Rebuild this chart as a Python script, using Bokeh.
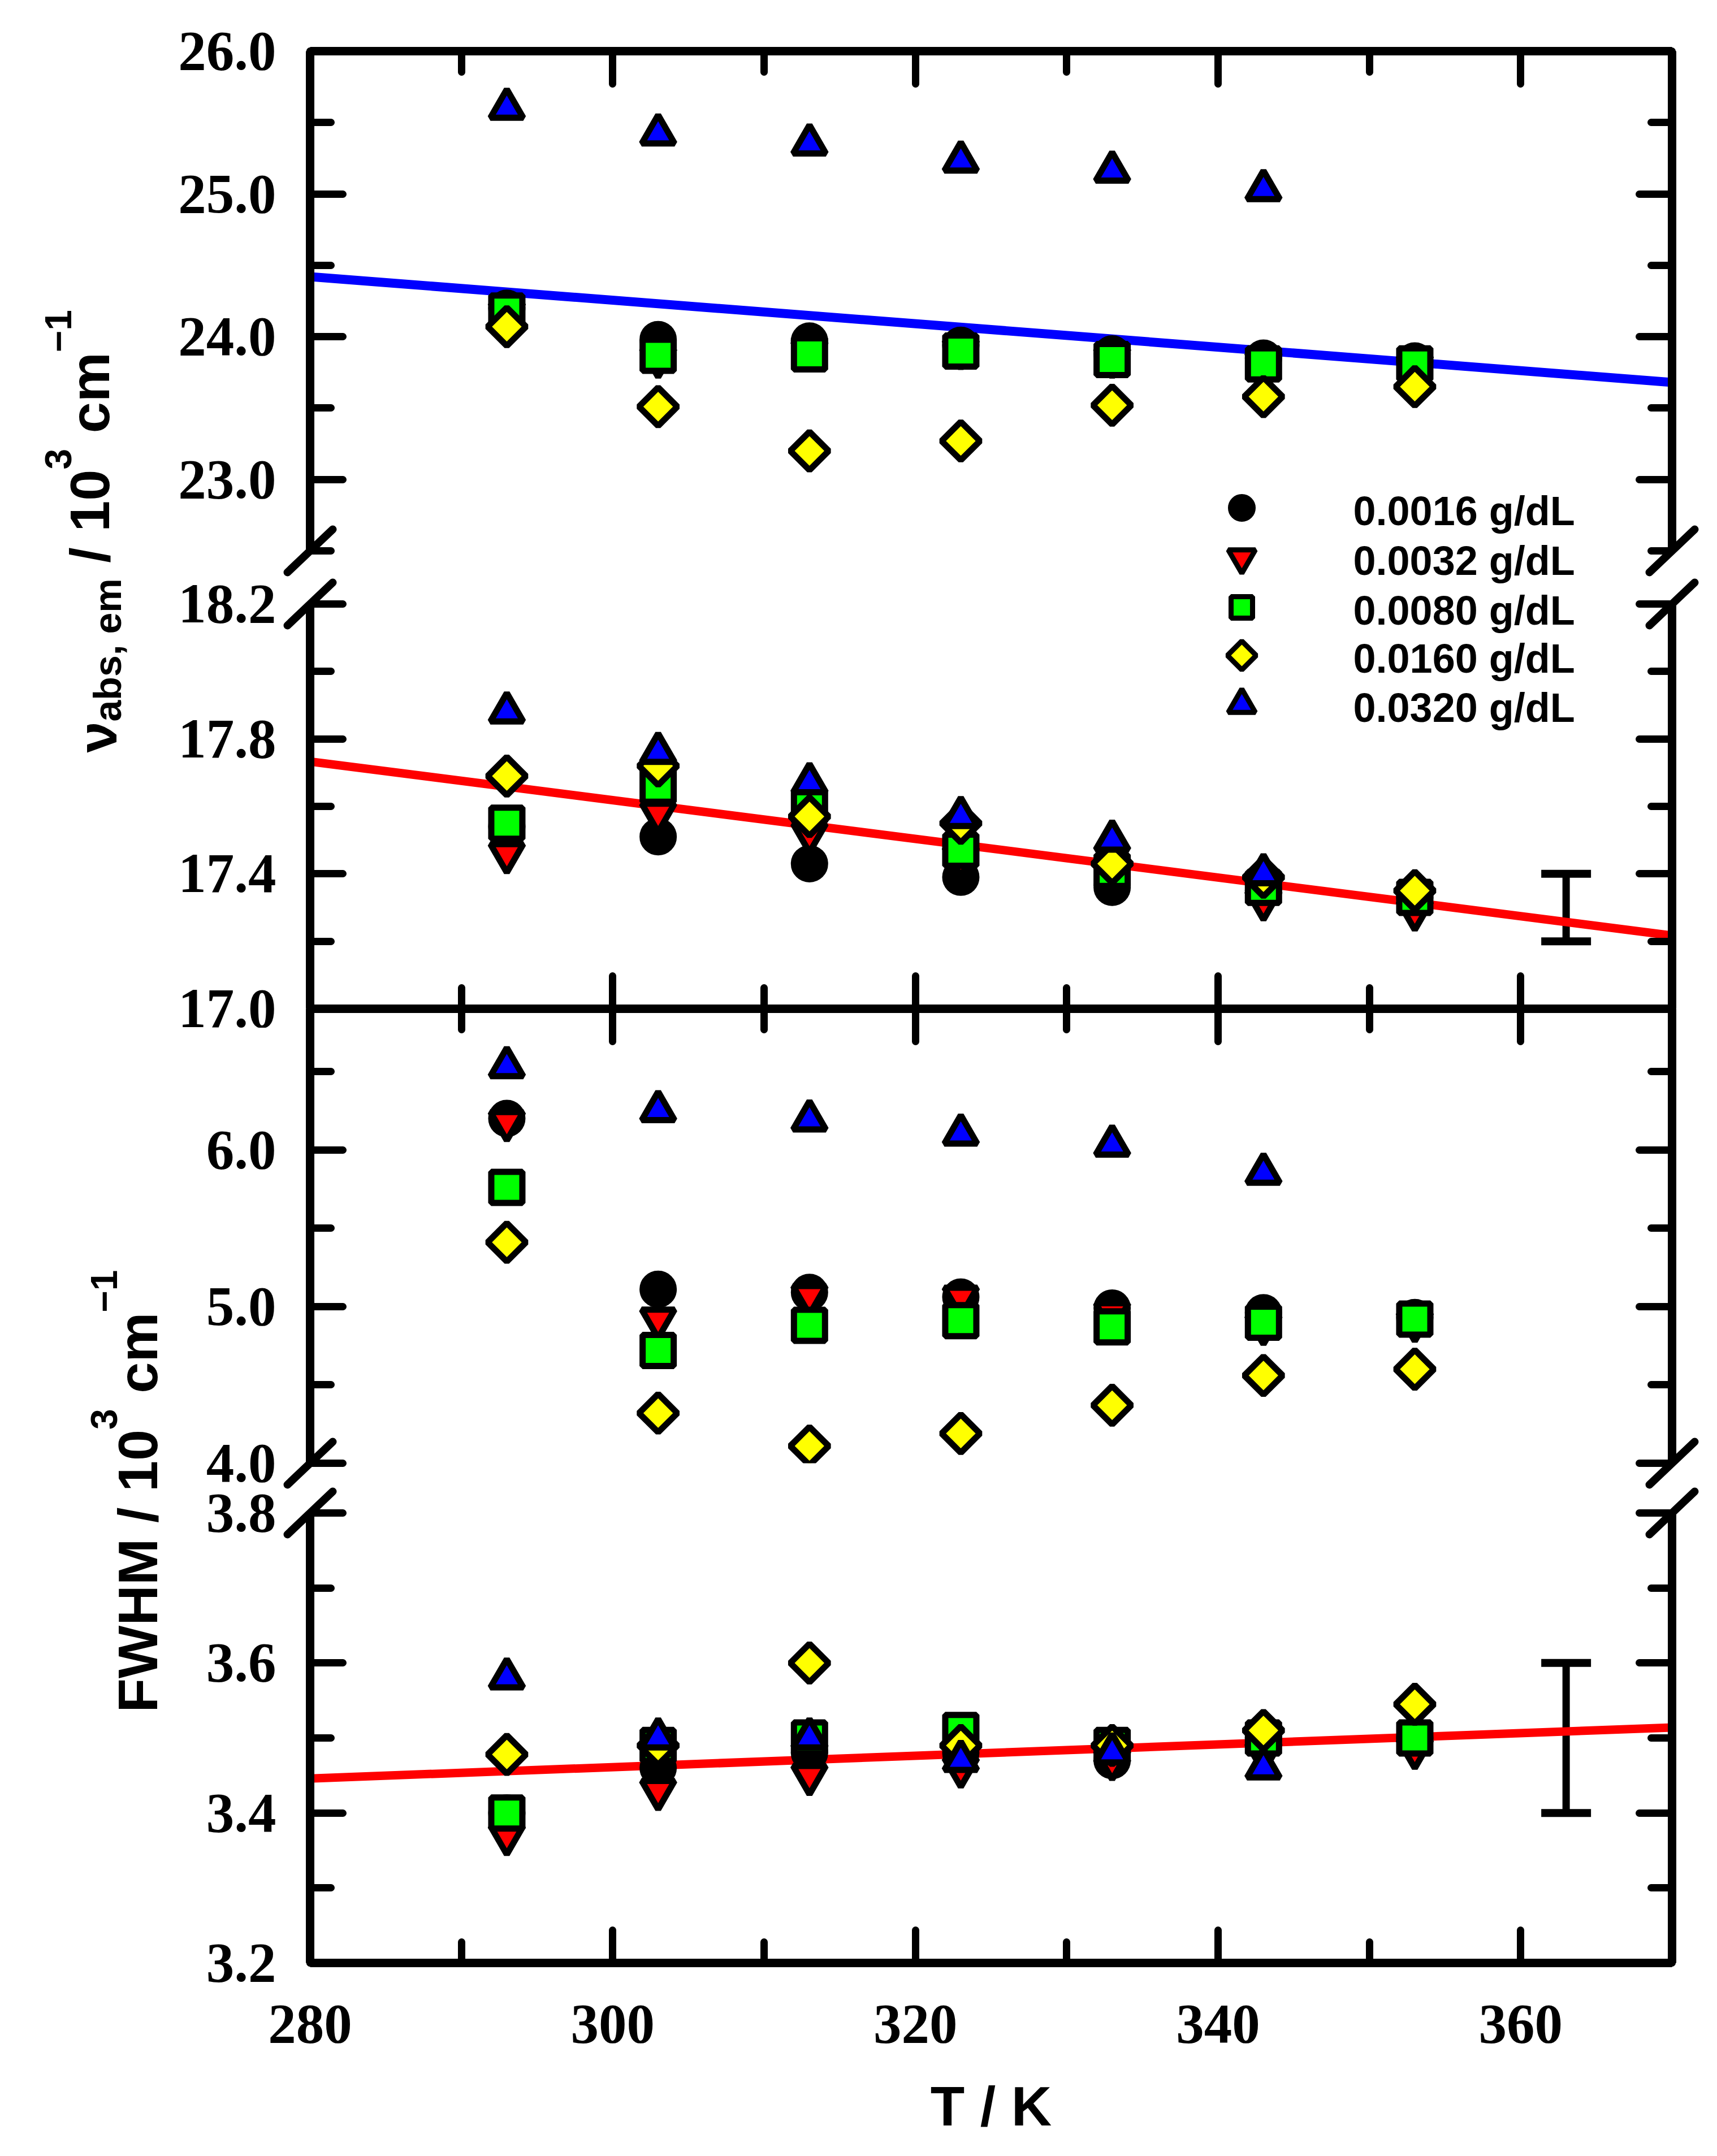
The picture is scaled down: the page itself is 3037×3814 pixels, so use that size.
from math import pi

from bokeh.core.properties import value
from bokeh.embed import file_html
from bokeh.layouts import column
from bokeh.models import (ColumnDataSource, FixedTicker, LinearAxis, PrintfTickFormatter,
                          Range1d, TeeHead, Whisker)
from bokeh.plotting import figure
from bokeh.resources import INLINE

NAN = float("nan")

temperature_K = [293, 303, 313, 323, 333, 343, 353]
concentrations = ["0.0016 g/dL", "0.0032 g/dL", "0.0080 g/dL", "0.0160 g/dL", "0.0320 g/dL"]

# emission maximum (10^3 cm^-1)
nu_em_c0016 = [24.20, 23.98, 23.97, 23.94, 23.88, 23.85, 23.83]
nu_em_c0032 = [24.17, 23.85, 23.90, 23.91, 23.85, 23.82, 23.80]
nu_em_c0080 = [24.18, 23.87, 23.88, 23.90, 23.84, 23.81, 23.81]
nu_em_c0160 = [24.07, 23.51, 23.20, 23.27, 23.52, 23.58, 23.65]
nu_em_c0320 = [25.60, 25.42, 25.35, 25.23, 25.16, 25.03, NAN]

# absorption maximum (10^3 cm^-1)
nu_abs_c0016 = [17.54, 17.51, 17.43, 17.39, 17.36, 17.35, 17.33]
nu_abs_c0032 = [17.46, 17.58, 17.52, 17.45, 17.40, 17.32, 17.29]
nu_abs_c0080 = [17.55, 17.66, 17.60, 17.47, 17.41, 17.36, 17.33]
nu_abs_c0160 = [17.69, 17.72, 17.57, 17.55, 17.43, 17.39, 17.35]
nu_abs_c0320 = [17.88, 17.76, 17.67, 17.57, 17.50, 17.40, NAN]

# emission band width (10^3 cm^-1)
fwhm_em_c0016 = [6.20, 5.11, 5.09, 5.06, 4.99, 4.96, 4.93]
fwhm_em_c0032 = [6.18, 4.92, 5.07, 5.06, 4.96, 4.88, 4.90]
fwhm_em_c0080 = [5.76, 4.72, 4.88, 4.91, 4.87, 4.90, 4.92]
fwhm_em_c0160 = [5.41, 4.32, 4.11, 4.19, 4.37, 4.56, 4.60]
fwhm_em_c0320 = [6.53, 6.25, 6.19, 6.10, 6.03, 5.85, NAN]

# absorption band width (10^3 cm^-1)
fwhm_abs_c0016 = [3.40, 3.46, 3.48, 3.48, 3.47, 3.50, 3.50]
fwhm_abs_c0032 = [3.37, 3.43, 3.45, 3.46, 3.47, 3.48, 3.485]
fwhm_abs_c0080 = [3.40, 3.49, 3.50, 3.51, 3.49, 3.50, 3.50]
fwhm_abs_c0160 = [3.478, 3.49, 3.60, 3.49, 3.49, 3.51, 3.545]
fwhm_abs_c0320 = [3.58, 3.50, 3.50, 3.47, 3.48, 3.46, NAN]

# linear fits and error bars
fit_T = [280, 370]
nu_em_fit = [24.42, 23.68]
nu_abs_fit = [17.733, 17.217]
fwhm_abs_fit = [3.446, 3.514]
err_T = [363]
nu_abs_err = ([17.2], [17.4])
fwhm_abs_err = ([3.4], [3.6])

# ticks
T_major = [280, 300, 320, 340, 360]
T_minor = [290, 310, 330, 350]
nu_em_major, nu_em_minor = [23.0, 24.0, 25.0, 26.0], [22.5, 23.5, 24.5, 25.5]
nu_abs_major, nu_abs_minor = [17.0, 17.4, 17.8, 18.2], [17.2, 17.6, 18.0]
fwhm_em_major, fwhm_em_minor = [4.0, 5.0, 6.0], [4.5, 5.5, 6.5]
fwhm_abs_major, fwhm_abs_minor = [3.2, 3.4, 3.6, 3.8], [3.3, 3.5, 3.7]

FRAME_W = 2409
LEFT, RIGHT = 548, 80
TOTAL_W, TOTAL_H = 3037, 3814
OVERLAP = 34          # room for the "17.0" label shared by the two middle panels

# marker, fill, size, angle  (diamond = rotated square)
STYLES = [("circle", "#000000", 55, 0.0),
          ("inverted_triangle", "#FF0000", 58, 0.0),
          ("square", "#00FF00", 55, 0.0),
          ("square", "#FFFF00", 48, pi / 4),
          ("triangle", "#0000FF", 58, 0.0)]


def style_axis(ax, labels, standoff=60):
    ax.axis_line_width = 15
    ax.major_tick_line_width = 13
    ax.minor_tick_line_width = 13
    ax.major_tick_line_cap = "round"
    ax.minor_tick_line_cap = "round"
    ax.major_tick_in = 58
    ax.major_tick_out = 0
    ax.minor_tick_in = 37
    ax.minor_tick_out = 0
    if labels:
        ax.major_label_text_font = "Liberation Serif"
        ax.major_label_text_font_style = "bold"
        ax.major_label_text_font_size = "99px"   # not 100px: svg font parser chokes on "bold 100px"
        ax.major_label_text_color = "black"
        ax.major_label_standoff = standoff
    else:
        ax.major_label_text_color = None
        ax.major_label_standoff = 0


def make_panel(y_lo, y_hi, frame_h, top, bottom, x_side, y_major, y_minor,
               x_labels=False, transparent=False):
    fill = None if transparent else "white"
    p = figure(frame_width=FRAME_W, frame_height=frame_h,
               x_range=Range1d(280, 370), y_range=Range1d(y_lo, y_hi),
               x_axis_location=x_side, y_axis_location="left",
               output_backend="svg", toolbar_location=None,
               min_border_left=LEFT, min_border_right=RIGHT,
               min_border_top=top, min_border_bottom=bottom,
               outline_line_color=None, background_fill_color=fill, border_fill_color=fill)
    p.grid.visible = False
    right = LinearAxis()
    p.add_layout(right, "right")
    left = p.left[0]
    xax = p.above[0] if x_side == "above" else p.below[0]
    xax.ticker = FixedTicker(ticks=T_major, minor_ticks=T_minor)
    style_axis(xax, x_labels, standoff=75)
    for ax, lab in ((left, True), (right, False)):
        ax.ticker = FixedTicker(ticks=y_major, minor_ticks=y_minor)
        ax.formatter = PrintfTickFormatter(format="%.1f")
        style_axis(ax, lab)
    return p


def add_points(p, series):
    for ys, (marker, color, size, angle) in zip(series, STYLES):
        p.scatter(temperature_K, ys, marker=marker, size=size, angle=angle,
                  fill_color=color, line_color="black", line_width=11)


def add_error(p, low, high):
    src = ColumnDataSource(dict(base=err_T, lower=low, upper=high))
    p.add_layout(Whisker(source=src, base="base", lower="lower", upper="upper",
                         dimension="height", line_width=13, line_color="black",
                         upper_head=TeeHead(size=88, line_width=14),
                         lower_head=TeeHead(size=88, line_width=14)))


# panel 1: emission maximum
p1 = make_panel(22.5, 26.0, 884, 90, 50, "above", nu_em_major, nu_em_minor)
p1.line(fit_T, nu_em_fit, line_color="#0000FF", line_width=16)
add_points(p1, [nu_em_c0016, nu_em_c0032, nu_em_c0080, nu_em_c0160, nu_em_c0320])

# panel 2: absorption maximum
p2 = make_panel(17.0, 18.2, 716, 44, OVERLAP, "below", nu_abs_major, nu_abs_minor)
p2.line(fit_T, nu_abs_fit, line_color="#FF0000", line_width=15)
add_points(p2, [nu_abs_c0016, nu_abs_c0032, nu_abs_c0080, nu_abs_c0160, nu_abs_c0320])
add_error(p2, *nu_abs_err)

# panel 3: emission FWHM (pulled up over the bottom border of panel 2)
p3 = make_panel(4.0, 6.9, 804, 0, 44, "above", fwhm_em_major, fwhm_em_minor, transparent=True)
p3.margin = (-OVERLAP, 0, 0, 0)
add_points(p3, [fwhm_em_c0016, fwhm_em_c0032, fwhm_em_c0080, fwhm_em_c0160, fwhm_em_c0320])

# panel 4: absorption FWHM
p4 = make_panel(3.2, 3.8, 796, 44, 342, "below", fwhm_abs_major, fwhm_abs_minor, x_labels=True)
p4.line(fit_T, fwhm_abs_fit, line_color="#FF0000", line_width=15)
add_points(p4, [fwhm_abs_c0016, fwhm_abs_c0032, fwhm_abs_c0080, fwhm_abs_c0160, fwhm_abs_c0320])
add_error(p4, *fwhm_abs_err)
xlab = p4.below[0]
xlab.axis_label = "T / K"
xlab.axis_label_text_font = "Liberation Sans"
xlab.axis_label_text_font_style = "bold"
xlab.axis_label_text_font_size = "99px"
xlab.axis_label_text_color = "black"
xlab.axis_label_standoff = 54

# transparent overlay in page pixels: y titles, legend and axis-break strokes,
# which straddle the gaps between the panels
ov = figure(width=TOTAL_W, height=TOTAL_H, x_range=Range1d(0, TOTAL_W), y_range=Range1d(0, TOTAL_H),
            x_axis_location=None, y_axis_location=None, output_backend="svg",
            toolbar_location=None, min_border=0, outline_line_color=None,
            background_fill_color=None, border_fill_color=None)
ov.grid.visible = False
ov.margin = (-TOTAL_H, 0, 0, 0)

ARIAL_BOLD = {"a": .556, "b": .611, "s": .556, ",": .278, " ": .278, "e": .556, "m": .889,
              "/": .278, "1": .556, "0": .556, "3": .556, "c": .556, "\u2212": .584,
              "F": .611, "W": .944, "H": .722, "M": .833, "\u03bd": .556}


def vertical_title(pieces, start_y, base_x):
    # pieces: (text, font px, baseline shift); reads bottom to top from start_y (px from top)
    y = start_y
    for txt, size, shift in pieces:
        lead = len(txt) - len(txt.lstrip())
        y -= lead * ARIAL_BOLD[" "] * size
        body = txt.strip()
        ov.text(x=[base_x + shift], y=[TOTAL_H - y], text=[body], angle=pi / 2,
                text_font=value("Liberation Sans"), text_font_style="bold",
                text_font_size=f"{size}px", text_align="left", text_baseline="alphabetic",
                text_color="black")
        y -= sum(ARIAL_BOLD[ch] for ch in body) * size


vertical_title([("\u03bd", 99, 13), ("abs, em", 68, 31), (" / 10", 99, 0), ("3", 66, -56),
                (" cm", 99, 0), ("\u22121", 66, -56)], 1331, 158)
vertical_title([("FWHM / 10", 99, 0), ("3", 66, -60), (" cm", 99, 0), ("\u22121", 66, -60)],
               3029, 243)

frame_left, frame_right = LEFT, LEFT + FRAME_W
breaks_y = [974, 1068, 2588, 2676]
bx = [xe for xe in (frame_left, frame_right) for _ in breaks_y]
by = [TOTAL_H - ye for _ in (0, 1) for ye in breaks_y]
ov.segment(x0=[x - 40 for x in bx], y0=[y - 38 for y in by],
           x1=[x + 40 for x in bx], y1=[y + 38 for y in by],
           line_color="black", line_width=14, line_cap="round")

key_rows = [898, 986, 1074, 1159, 1246]
ov.scatter(x=[2196] * 5, y=[TOTAL_H - r for r in key_rows],
           marker=["circle", "inverted_triangle", "square", "square", "triangle"],
           size=[40, 48, 38, 36, 48], angle=[0, 0, 0, pi / 4, 0],
           fill_color=[s[1] for s in STYLES], line_color="black", line_width=9)
ov.text(x=[2393] * 5, y=[TOTAL_H - r - 5 for r in key_rows], text=concentrations,
        text_font=value("Liberation Sans"), text_font_style="bold", text_font_size="72px",
        text_align="left", text_baseline="middle", text_color="black")

layout = column(column(p1, p2, p3, p4, spacing=0), ov, spacing=0)

open("out.html", "w").write(file_html(layout, INLINE))
